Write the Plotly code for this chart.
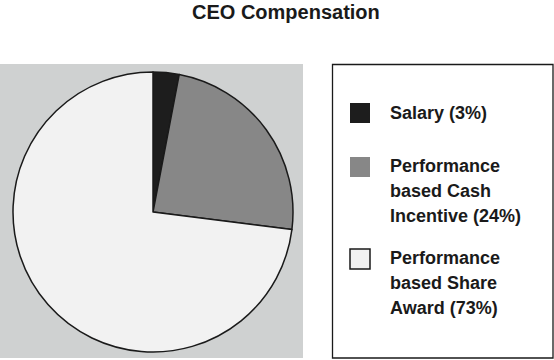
import plotly.graph_objects as go

title = "CEO Compensation"
labels = ["Salary (3%)", "Performance<br>based Cash<br>Incentive (24%)", "Performance<br>based Share<br>Award (73%)"]
values = [3, 24, 73]
colors = ["#1d1d1d", "#878787", "#f2f2f2"]

W, H = 554, 360
FONT = "Liberation Sans, Arial, sans-serif"

def px(x):
    return x / W

def py(y):
    return 1 - y / H

fig = go.Figure()
fig.add_trace(go.Pie(
    labels=labels, values=values, sort=False, direction="clockwise", rotation=0,
    marker=dict(colors=colors, line=dict(color="#1a1a1a", width=1.5)),
    textinfo="none", hoverinfo="label+percent", showlegend=False,
    domain=dict(x=[px(13), px(293)], y=[py(352), py(72)]),
))

shapes = [
    dict(type="rect", xref="paper", yref="paper", x0=px(0), x1=px(303), y0=py(358), y1=py(64),
         fillcolor="#cfd1d1", line=dict(width=0), layer="below"),
    dict(type="rect", xref="paper", yref="paper", x0=px(332.5), x1=px(553), y0=py(358), y1=py(64.5),
         fillcolor="white", line=dict(color="#1a1a1a", width=1.3), layer="below"),
]
annotations = [dict(text="<b>" + title + "</b>", x=px(286), y=py(12), xref="paper", yref="paper",
                    xanchor="center", yanchor="middle", showarrow=False,
                    font=dict(family=FONT, size=20, color="#1a1a1a"))]

square_tops = [103, 157, 249]
first_line = [113, 166, 258]
for i, lab in enumerate(labels):
    t = square_tops[i]
    shapes.append(dict(type="rect", xref="paper", yref="paper", x0=px(350), x1=px(370),
                       y0=py(t + 20), y1=py(t), fillcolor=colors[i],
                       line=dict(color="#1a1a1a" if i == 2 else colors[i], width=1.5 if i == 2 else 0)))
    for j, line in enumerate(lab.split("<br>")):
        annotations.append(dict(text="<b>" + line + "</b>", x=px(388), y=py(first_line[i] + 25 * j),
                                xref="paper", yref="paper", xanchor="left", yanchor="middle",
                                showarrow=False, font=dict(family=FONT, size=18, color="#1a1a1a")))

fig.update_layout(width=W, height=H, margin=dict(l=0, r=0, t=0, b=0),
                  paper_bgcolor="white", plot_bgcolor="white",
                  shapes=shapes, annotations=annotations)
fig.write_html("out.html", config={"displayModeBar": False},
               post_script="document.body.style.margin='0px';document.body.style.overflow='hidden';")
